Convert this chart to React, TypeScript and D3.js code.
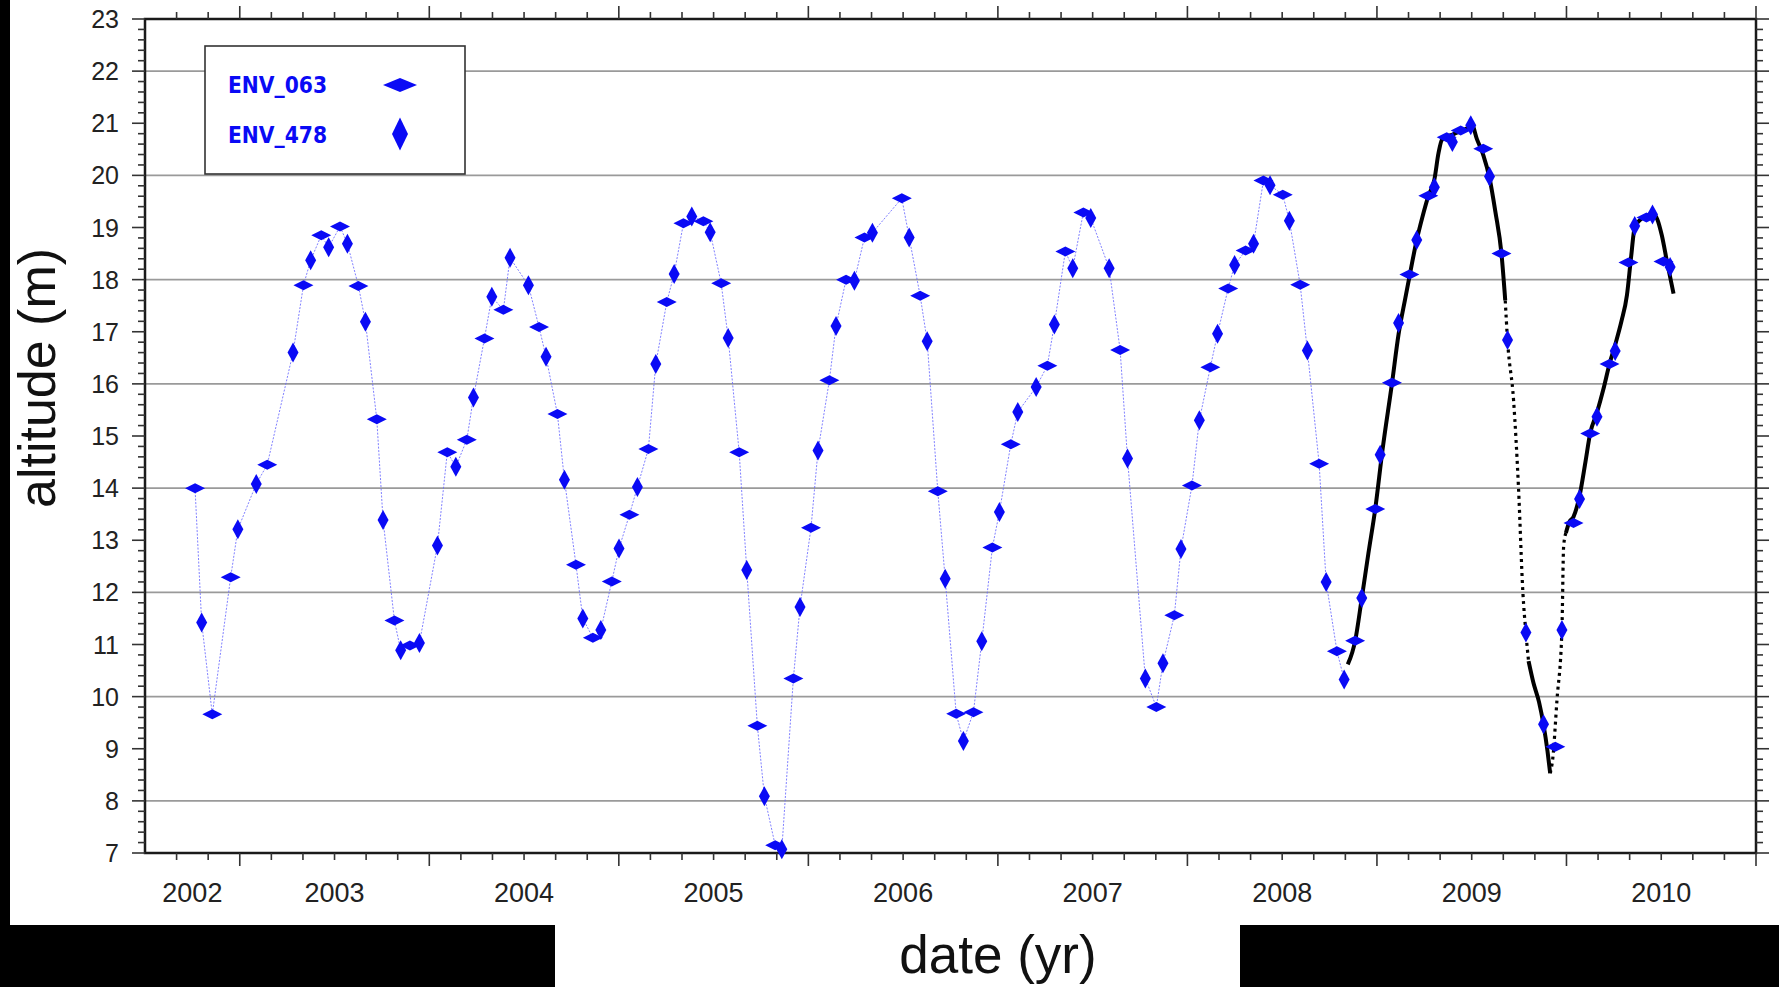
import React from "react";
import * as d3 from "d3";

// ENV_063 track (horizontal diamonds)
const env063Dates = [
  2002.764, 2002.855, 2002.952, 2003.145, 2003.336, 2003.43, 2003.529, 2003.626, 2003.723, 2003.816,
  2003.898, 2004.095, 2004.198, 2004.291, 2004.391, 2004.579, 2004.676, 2004.774, 2004.863, 2004.963,
  2005.056, 2005.156, 2005.253, 2005.341, 2005.446, 2005.54, 2005.635, 2005.731, 2005.825, 2005.921,
  2006.014, 2006.111, 2006.199, 2006.296, 2006.493, 2006.59, 2006.683, 2006.78, 2006.871, 2006.971,
  2007.068, 2007.261, 2007.356, 2007.451, 2007.645, 2007.836, 2007.931, 2008.024, 2008.121, 2008.215,
  2008.307, 2008.401, 2008.503, 2008.595, 2008.695, 2008.789, 2008.885, 2008.991, 2009.079, 2009.171,
  2009.271, 2009.368, 2009.442, 2009.561, 2009.657, 2009.941, 2010.037, 2010.125, 2010.227, 2010.327,
  2010.422, 2010.512
];
const env063Alt = [
  14.0, 9.66, 12.29, 14.45, 17.89, 18.85, 19.02, 17.88, 15.32, 11.46,
  10.98, 14.69, 14.93, 16.87, 17.42, 17.09, 15.42, 12.53, 11.13, 12.21,
  13.49, 14.75, 17.57, 19.08, 19.12, 17.93, 14.69, 9.44, 7.15, 10.35,
  13.24, 16.07, 18.0, 18.81, 19.56, 17.69, 13.94, 9.67, 9.7, 12.86,
  14.84, 16.35, 18.54, 19.29, 16.65, 9.8, 11.56, 14.05, 16.32, 17.83,
  18.56, 19.9, 19.63, 17.9, 14.47, 10.87, 11.07, 13.6, 16.02, 18.1,
  19.61, 20.73, 20.86, 20.51, 18.5, 9.04, 13.33, 15.05, 16.38, 18.33,
  19.19, 18.35
];

// ENV_478 track (vertical diamonds)
const env478Dates = [
  2002.799, 2002.99, 2003.087, 2003.281, 2003.374, 2003.469, 2003.568, 2003.663, 2003.756, 2003.849,
  2003.948, 2004.043, 2004.14, 2004.233, 2004.33, 2004.426, 2004.523, 2004.616, 2004.713, 2004.81,
  2004.905, 2005.001, 2005.098, 2005.195, 2005.292, 2005.385, 2005.482, 2005.577, 2005.675, 2005.768,
  2005.86, 2005.956, 2006.051, 2006.146, 2006.243, 2006.338, 2006.532, 2006.627, 2006.722, 2006.818,
  2006.915, 2007.008, 2007.105, 2007.202, 2007.298, 2007.395, 2007.49, 2007.587, 2007.684, 2007.778,
  2007.871, 2007.966, 2008.063, 2008.159, 2008.249, 2008.349, 2008.436, 2008.538, 2008.633, 2008.732,
  2008.827, 2008.92, 2009.017, 2009.114, 2009.21, 2009.303, 2009.398, 2009.495, 2009.594, 2009.689,
  2009.786, 2009.879, 2009.976, 2010.069, 2010.161, 2010.257, 2010.36, 2010.454, 2010.547
];
const env478Alt = [
  11.42, 13.21, 14.08, 16.6, 18.37, 18.62, 18.69, 17.19, 13.39, 10.89,
  11.03, 12.9, 14.41, 15.74, 17.67, 18.42, 17.89, 16.52, 14.16, 11.5,
  11.28, 12.84, 14.02, 16.38, 18.11, 19.21, 18.91, 16.88, 12.43, 8.09,
  7.07, 11.72, 14.72, 17.11, 17.98, 18.9, 18.81, 16.82, 12.26, 9.15,
  11.06, 13.54, 15.46, 15.94, 17.14, 18.22, 19.18, 18.22, 14.57, 10.35,
  10.64, 12.83, 15.3, 16.96, 18.28, 18.69, 19.81, 19.13, 16.64, 12.2,
  10.33, 11.89, 14.64, 17.17, 18.76, 19.77, 20.64, 20.96, 19.98, 16.84,
  11.23, 9.47, 11.28, 13.79, 15.37, 16.63, 19.03, 19.25, 18.24
];

// dense black record (2008-2010)
const gaugeDates = [
  2008.846, 2008.87, 2008.885, 2008.92, 2008.955, 2008.991, 2009.03, 2009.079, 2009.114, 2009.15,
  2009.171, 2009.21, 2009.24, 2009.271, 2009.303, 2009.325, 2009.343, 2009.404, 2009.442, 2009.474,
  2009.5, 2009.527, 2009.562, 2009.594, 2009.625, 2009.657, 2009.677, 2009.689, 2009.721, 2009.747,
  2009.77, 2009.786, 2009.8, 2009.826, 2009.855, 2009.879, 2009.9, 2009.914, 2009.927, 2009.95,
  2009.976, 2009.985, 2009.997, 2010.015, 2010.037, 2010.069, 2010.1, 2010.125, 2010.161, 2010.195,
  2010.227, 2010.257, 2010.29, 2010.319, 2010.34, 2010.36, 2010.39, 2010.422, 2010.454, 2010.48,
  2010.503, 2010.53, 2010.565
];
const gaugeAlt = [
  10.62, 10.85, 11.07, 11.89, 12.75, 13.6, 14.75, 16.0, 16.95, 17.65,
  18.05, 18.76, 19.2, 19.6, 19.92, 20.43, 20.68, 20.79, 20.85, 20.9,
  20.98, 20.7, 20.38, 19.95, 19.3, 18.5, 17.6, 16.84, 15.68, 14.0,
  12.0, 11.22, 10.68, 10.26, 9.9, 9.46, 8.95, 8.53, 8.79, 9.94,
  11.28, 12.88, 13.14, 13.35, 13.45, 13.85, 14.5, 15.05, 15.45, 15.9,
  16.38, 16.75, 17.2, 17.7, 18.4, 19.0, 19.15, 19.22, 19.27, 19.15,
  18.85, 18.35, 17.73
];
// stretches of the black record that are only sparsely sampled
const gaugeSparse = [
  [2009.677, 2009.8],
  [2009.914, 2009.997]
];

const yearLabels = [2002, 2003, 2004, 2005, 2006, 2007, 2008, 2009, 2010];
const altLabels = [7, 8, 9, 10, 11, 12, 13, 14, 15, 16, 17, 18, 19, 20, 21, 22, 23];
const gridValues = [8, 10, 12, 14, 16, 18, 20, 22];
const legendItems = ["ENV_063", "ENV_478"];

const W = 1779;
const H = 987;
const plot = { left: 145, right: 1756, top: 19, bottom: 853 };
const font = "'Liberation Sans', Arial, Helvetica, sans-serif";
const narrow = "'Liberation Sans Narrow', 'DejaVu Sans Condensed', 'Liberation Sans', sans-serif";

const diamond = (hw: number, hh: number) => `M0,${-hh}L${hw},0L0,${hh}L${-hw},0Z`;
const hMark = diamond(10, 5);
const vMark = diamond(5.5, 10);

export default function App() {
  const x = d3.scaleLinear().domain([2002.5, 2011]).range([plot.left, plot.right]);
  const y = d3.scaleLinear().domain([7, 23]).range([plot.bottom, plot.top]);

  // ticks
  const xMajor = d3.range(2003, 2012);
  const xMinor = d3.range(1, 51).map(i => 2002.5 + i / 6).filter(v => Math.abs(v - Math.round(v)) > 0.01);
  const yMinor = d3.range(0, 81).map(i => 7 + i * 0.2).filter(v => Math.abs(v - Math.round(v)) > 0.01);

  // blue link through both tracks, before the dense record starts
  const merged = [
    ...env063Dates.map((d, i) => [d, env063Alt[i]]),
    ...env478Dates.map((d, i) => [d, env478Alt[i]])
  ]
    .filter(p => p[0] < gaugeDates[0])
    .sort((a, b) => a[0] - b[0]);
  const linkLine = d3.line<number[]>().x(d => x(d[0])).y(d => y(d[1]));

  // split black record into dense / sparse runs
  const gauge = gaugeDates.map((d, i) => [d, gaugeAlt[i]]);
  const isSparse = (a: number, b: number) => {
    const m = (a + b) / 2;
    return gaugeSparse.some(s => m > s[0] && m < s[1]);
  };
  const runs: { sparse: boolean; pts: number[][] }[] = [];
  for (let i = 0; i < gauge.length - 1; i++) {
    const sp = isSparse(gauge[i][0], gauge[i + 1][0]);
    const last = runs[runs.length - 1];
    if (last && last.sparse === sp) last.pts.push(gauge[i + 1]);
    else runs.push({ sparse: sp, pts: [gauge[i], gauge[i + 1]] });
  }
  const gaugeLine = d3
    .line<number[]>()
    .x(d => x(d[0]))
    .y(d => y(d[1]))
    .curve(d3.curveMonotoneX);

  const blue = "#0a0af5";

  return (
    <>
      <style>{"body{margin:0}"}</style>
      <svg width={W} height={H} style={{ display: "block" }}>
        <rect x={0} y={0} width={W} height={H} fill="#000" />
        <rect x={10} y={0} width={W - 10} height={925} fill="#fff" />
        <rect x={555} y={920} width={685} height={H - 920} fill="#fff" />

        {/* grid */}
        {gridValues.map(v => (
          <line key={v} x1={plot.left} x2={plot.right} y1={y(v)} y2={y(v)} stroke="#9a9a9a" strokeWidth={1.6} />
        ))}

        {/* link line */}
        <path
          d={linkLine(merged) || ""}
          fill="none"
          stroke="#6a6aff"
          strokeWidth={1}
          strokeDasharray="2 1.5"
          opacity={0.85}
        />

        {/* black record */}
        {runs.map((r, i) => (
          <path
            key={i}
            d={gaugeLine(r.pts) || ""}
            fill="none"
            stroke="#000"
            strokeWidth={r.sparse ? 3.2 : 4}
            strokeDasharray={r.sparse ? "3 4" : undefined}
            strokeLinejoin="round"
          />
        ))}

        {/* frame */}
        <rect
          x={plot.left}
          y={plot.top}
          width={plot.right - plot.left}
          height={plot.bottom - plot.top}
          fill="none"
          stroke="#1a1a1a"
          strokeWidth={2.5}
        />
        <g stroke="#333" strokeWidth={1.6}>
          {xMajor.map(v => (
            <g key={"xM" + v}>
              <line x1={x(v)} x2={x(v)} y1={plot.bottom} y2={plot.bottom + 13} />
              <line x1={x(v)} x2={x(v)} y1={plot.top} y2={plot.top - 13} />
            </g>
          ))}
          {xMinor.map(v => (
            <g key={"xm" + v}>
              <line x1={x(v)} x2={x(v)} y1={plot.bottom} y2={plot.bottom + 7} />
              <line x1={x(v)} x2={x(v)} y1={plot.top} y2={plot.top - 7} />
            </g>
          ))}
          {altLabels.map(v => (
            <g key={"yM" + v}>
              <line x1={plot.left} x2={plot.left - 13} y1={y(v)} y2={y(v)} />
              <line x1={plot.right} x2={plot.right + 13} y1={y(v)} y2={y(v)} />
            </g>
          ))}
          {yMinor.map(v => (
            <g key={"ym" + v}>
              <line x1={plot.left} x2={plot.left - 7} y1={y(v)} y2={y(v)} />
              <line x1={plot.right} x2={plot.right + 7} y1={y(v)} y2={y(v)} />
            </g>
          ))}
        </g>

        {/* markers */}
        {env063Dates.map((d, i) => (
          <path key={"a" + i} d={hMark} transform={`translate(${x(d)},${y(env063Alt[i])})`} fill={blue} />
        ))}
        {env478Dates.map((d, i) => (
          <path key={"b" + i} d={vMark} transform={`translate(${x(d)},${y(env478Alt[i])})`} fill={blue} />
        ))}

        {/* tick labels */}
        {altLabels.map(v => (
          <text
            key={"yl" + v}
            x={119}
            y={y(v)}
            dy="0.36em"
            textAnchor="end"
            fontFamily={font}
            fontSize={25}
            fill="#222"
          >
            {v}
          </text>
        ))}
        {yearLabels.map(yr => {
          const c = (Math.max(yr, 2002.5) + Math.min(yr + 1, 2011)) / 2;
          return (
            <text
              key={"xl" + yr}
              x={x(c)}
              y={902}
              textAnchor="middle"
              fontFamily={font}
              fontSize={27}
              fill="#222"
            >
              {yr}
            </text>
          );
        })}

        {/* axis titles */}
        <text x={998} y={973} textAnchor="middle" fontFamily={font} fontSize={53} fill="#111">
          date (yr)
        </text>
        <text
          transform="translate(55,378) rotate(-90)"
          textAnchor="middle"
          fontFamily={font}
          fontSize={52}
          fill="#111"
        >
          altitude (m)
        </text>

        {/* legend */}
        <rect x={205} y={46} width={260} height={128} fill="#fff" stroke="#333" strokeWidth={1.6} />
        {legendItems.map((name, i) => (
          <g key={name}>
            <text
              x={228}
              y={93 + i * 50}
              fontFamily={narrow}
              fontWeight="bold"
              fontSize={23}
              fill={blue}
              textLength={99}
              lengthAdjust="spacingAndGlyphs"
            >
              {name}
            </text>
            <path
              d={i === 0 ? diamond(17, 7) : diamond(8, 16.5)}
              transform={`translate(400,${85 + i * 49})`}
              fill={blue}
            />
          </g>
        ))}
      </svg>
    </>
  );
}
